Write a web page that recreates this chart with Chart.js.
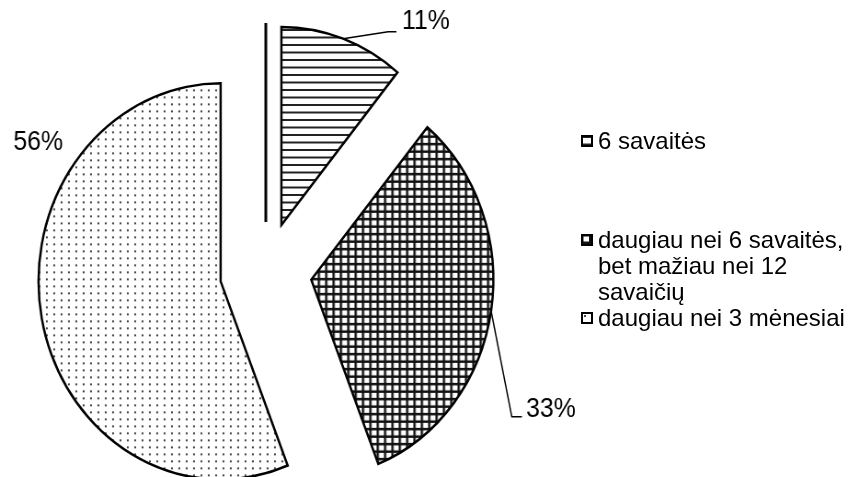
<!DOCTYPE html>
<html>
<head>
<meta charset="utf-8">
<script src="https://cdn.jsdelivr.net/npm/chart.js"></script>
<style>
  html, body { margin: 0; padding: 0; background: #fff; overflow: hidden; }
  #wrap { position: relative; width: 848px; height: 477px; overflow: hidden; }
  #chart { position: absolute; left: 0; top: 0; }
  .legend-item {
    position: absolute; left: 581px; width: 272px;
    display: flex; align-items: flex-start;
    font: 24px "Liberation Sans", Arial, sans-serif; line-height: 26px; color: #000;
  }
  .legend-item canvas { flex: none; margin-top: 7px; margin-right: 5px; }
</style>
</head>
<body>
<div id="wrap">
  <!-- the reference is a little narrower than tall, so the canvas is squeezed in x -->
  <canvas id="chart" width="922" height="477" style="width:848px;height:477px"></canvas>
  <div id="legend"></div>
</div>
<script>
const categories = ['6 savaitės', 'daugiau nei 6 savaitės, bet mažiau nei 12 savaičių', 'daugiau nei 3 mėnesiai'];
const shares = [11, 33, 56];
const pctLabels = ['11%', '33%', '56%'];

const patternKinds = ['stripes', 'grid', 'dots'];
const legendTops = [128, 227, 305];
const explode = 50;

// label placement relative to the point where the slice's mid-angle meets the rim
const labelStyles = [
  { leader: [[49, -7], [58, -7]], text: [64, -10] },
  { leader: [[22.5, 106], [33.5, 106]], text: [38, 106] },
  { leader: null, text: [-31, -168] }
];

function makeTile(kind) {
  const c = document.createElement('canvas');
  const g = c.getContext('2d');
  if (kind === 'stripes') {
    c.width = 8; c.height = 15;
    g.fillStyle = '#fff'; g.fillRect(0, 0, 8, 15);
    g.fillStyle = '#222';
    g.fillRect(0, 1, 8, 2);
    g.fillRect(0, 8.5, 8, 2);
  } else if (kind === 'grid') {
    c.width = 8; c.height = 15;
    g.fillStyle = '#fff'; g.fillRect(0, 0, 8, 15);
    g.fillStyle = '#111';
    g.fillRect(0, 0, 2.5, 15);
    g.fillRect(0, 0, 8, 2.5);
    g.fillRect(0, 7.5, 8, 2.5);
  } else {
    c.width = 8; c.height = 7;
    g.fillStyle = '#fff'; g.fillRect(0, 0, 8, 7);
    g.fillStyle = '#444';
    g.fillRect(3, 3, 2, 2);
  }
  return c;
}

const canvas = document.getElementById('chart');
const ctx = canvas.getContext('2d');
const patterns = patternKinds.map(k => ctx.createPattern(makeTile(k), 'repeat'));

// Chart.js grows the radius with `offset`, so slices are pushed out by hand instead
const explodePlugin = {
  id: 'explode',
  afterUpdate(chart) {
    chart.getDatasetMeta(0).data.forEach(arc => {
      if (arc.$exploded) return;
      const draw = arc.draw.bind(arc);
      arc.draw = function(c, area) {
        const half = (arc.startAngle + arc.endAngle) / 2;
        c.save();
        c.translate(Math.cos(half) * explode, Math.sin(half) * explode);
        draw(c, area);
        c.restore();
      };
      arc.$exploded = true;
    });
  }
};

const labelPlugin = {
  id: 'pctLabels',
  afterDatasetsDraw(chart) {
    const c = chart.ctx;
    const arcs = chart.getDatasetMeta(0).data;
    c.save();
    // stray vertical rule left of the small slice
    const first = arcs[0];
    c.strokeStyle = '#000';
    c.lineWidth = 3;
    c.beginPath();
    c.moveTo(first.x, first.y - explode);
    c.lineTo(first.x, first.y - explode - first.outerRadius - 1);
    c.stroke();

    c.font = '27px "Liberation Sans", Arial, sans-serif';
    c.fillStyle = '#000';
    c.textBaseline = 'alphabetic';
    c.textAlign = 'left';
    arcs.forEach((arc, i) => {
      const half = (arc.startAngle + arc.endAngle) / 2;
      const ax = arc.x + Math.cos(half) * (explode + arc.outerRadius);
      const ay = arc.y + Math.sin(half) * (explode + arc.outerRadius);
      const st = labelStyles[i];
      if (st.leader) {
        c.lineWidth = 1.5;
        c.beginPath();
        c.moveTo(ax, ay);
        st.leader.forEach(p => c.lineTo(ax + p[0], ay + p[1]));
        c.stroke();
      }
      c.fillText(pctLabels[i], ax + st.text[0], ay + st.text[1]);
    });
    c.restore();
  }
};

new Chart(ctx, {
  type: 'pie',
  data: {
    labels: categories,
    datasets: [{
      data: shares,
      backgroundColor: patterns,
      borderColor: '#000',
      borderWidth: 2.5,
      borderJoinStyle: 'miter',
      radius: 198
    }]
  },
  options: {
    responsive: false,
    animation: false,
    events: [],
    layout: { padding: { left: 0, right: 344, top: 67, bottom: 0 } },
    plugins: { legend: { display: false }, tooltip: { enabled: false } }
  },
  plugins: [explodePlugin, labelPlugin]
});

// legend as html so the text is not squeezed with the canvas
const legend = document.getElementById('legend');
categories.forEach((name, i) => {
  const item = document.createElement('div');
  item.className = 'legend-item';
  item.style.top = legendTops[i] + 'px';
  const sw = document.createElement('canvas');
  sw.width = 12; sw.height = 12;
  const g = sw.getContext('2d');
  g.fillStyle = g.createPattern(makeTile(patternKinds[i]), 'repeat');
  g.fillRect(0, 0, 12, 12);
  g.strokeStyle = '#000';
  g.lineWidth = 2;
  g.strokeRect(1, 1, 10, 10);
  const span = document.createElement('span');
  span.textContent = name;
  item.appendChild(sw);
  item.appendChild(span);
  legend.appendChild(item);
});
</script>
</body>
</html>
